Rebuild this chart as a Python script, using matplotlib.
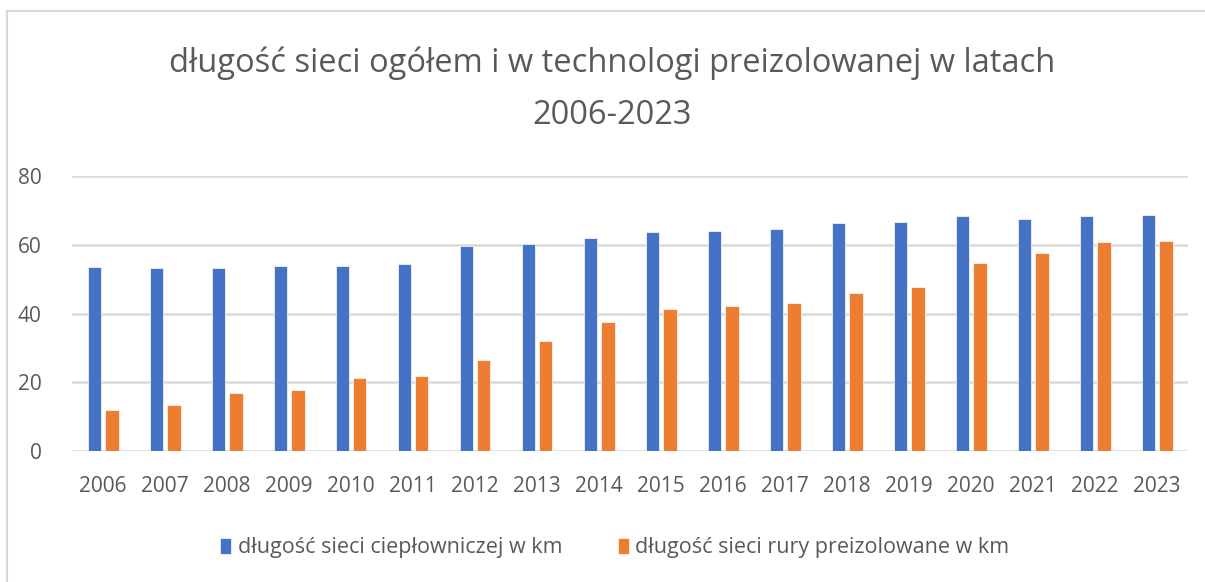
import matplotlib
matplotlib.use('Agg')
import matplotlib.pyplot as plt
import numpy as np
from matplotlib.patches import Rectangle

# data
years = ['2006', '2007', '2008', '2009', '2010', '2011', '2012', '2013', '2014',
         '2015', '2016', '2017', '2018', '2019', '2020', '2021', '2022', '2023']
siec_ogolem = [53.4, 53.1, 53.1, 53.9, 53.9, 54.3, 59.7, 60.2, 62.0,
               63.6, 64.1, 64.5, 66.2, 66.6, 68.3, 67.5, 68.3, 68.8]
siec_preizol = [11.8, 13.5, 17.0, 17.8, 21.2, 21.7, 26.5, 32.0, 37.5,
                41.4, 42.2, 43.1, 46.1, 47.8, 54.7, 57.7, 60.7, 61.2]
label_ogolem = 'długość sieci ciepłowniczej w km'
label_preizol = 'długość sieci rury preizolowane w km'
title = 'długość sieci ogółem i w technologi preizolowanej w latach\n2006-2023'

plt.rcParams['font.family'] = ['Open Sans', 'DejaVu Sans']
txt = '#595959'

fig = plt.figure(figsize=(12.05, 5.82), dpi=100)
W, H = 1205, 582
ax = fig.add_axes([72 / W, 1 - 451 / H, (1188 - 72) / W, (451 - 176) / H])

x = np.arange(len(years))
w = 0.22
ax.bar(x - 0.14, siec_ogolem, w, color='#4472C4', edgecolor='white', linewidth=0.5, label=label_ogolem, zorder=3)
ax.bar(x + 0.14, siec_preizol, w, color='#ED7D31', edgecolor='white', linewidth=0.5, label=label_preizol, zorder=3)

ax.set_xlim(-0.5, len(years) - 0.5)
ax.set_ylim(0, 80)
ax.set_yticks([0, 20, 40, 60, 80])
ax.set_xticks(x)
ax.set_xticklabels(years)
ax.grid(axis='y', color='#D9D9D9', linewidth=1.8, zorder=0)
for s in ax.spines.values():
    s.set_visible(False)
ax.tick_params(length=0, labelsize=15, colors=txt)
ax.tick_params(axis='x', pad=18)
ax.tick_params(axis='y', pad=22)

fig.text(612 / W, 1 - 89 / H, title, ha='center', va='center', fontsize=23.5, color=txt, linespacing=1.75)

leg = fig.legend(loc='center', bbox_to_anchor=(615 / W, 1 - 548 / H), ncol=2, frameon=False,
                 fontsize=15.5, handlelength=0.5, handleheight=0.8, handletextpad=0.3, columnspacing=2.6)
for t in leg.get_texts():
    t.set_color(txt)

# chart border (left and top visible)
fig.add_artist(Rectangle((7 / W, -0.1), 1.2, 1 - 11 / H + 0.1, transform=fig.transFigure,
                         fill=False, edgecolor='#D9D9D9', linewidth=1.5))

fig.savefig('out.png', dpi=100)
